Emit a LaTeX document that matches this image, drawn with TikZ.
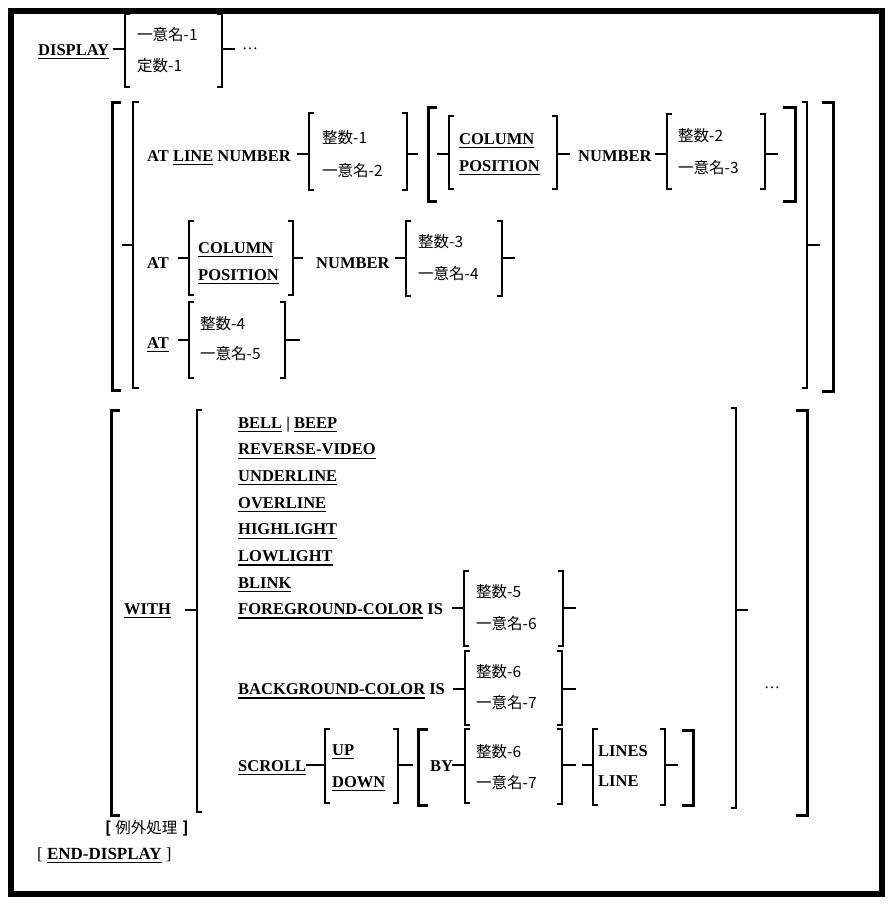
\documentclass[tikz,border=0pt]{standalone}
\usepackage{fontspec}
\setmainfont{Liberation Serif}
\newfontfamily\cjk{Noto Sans CJK JP}
\newcommand\kw[1]{\setbox0\hbox{#1}\rlap{\rule[-4pt]{\wd0}{1.2pt}}\box0\relax}
\newcommand\brk[5][thinbr]{\draw[#1] (#2,#3) +(#5,0) -- (#2,#3) -- (#2,#4) -- +(#5,0);}
\tikzset{
  thinbr/.style={line width=1.4pt, line join=miter},
  thickbr/.style={line width=3pt, line join=miter},
  kwt/.style={anchor=base west, inner sep=0pt, font=\fontsize{16.5}{18}\selectfont\bfseries},
  jp/.style={anchor=base west, inner sep=0pt, font=\fontsize{15.5}{18}\selectfont\cjk},
  dots/.style={anchor=base west, inner sep=0pt, font=\fontsize{16}{18}\selectfont},
}
\begin{document}
\begin{tikzpicture}[x=1pt,y=-1pt]
\useasboundingbox (0,0) rectangle (895,908);
\draw[line width=6pt] (11,11) rectangle (882,894);

% ---- DISPLAY
\node[kwt] (display) at (38,55) {\kw{DISPLAY}};
\draw[thinbr] (113,49) -- (125,49);
\brk{125}{14}{87}{5}
\node[jp] (id1) at (137,40) {一意名-1};
\node[jp] (c1) at (137,71) {定数-1};
\brk{222}{14}{87}{-5}
\draw[thinbr] (222,49) -- (235,49);
\node[dots] (dots1) at (242,49) {…};

% ---- AT section
\brk[thickbr]{112}{102}{390}{9}
\brk{133}{102}{388}{6}
\draw[thinbr] (122,245) -- (133,245);
\brk{807}{102}{388}{-5}
\draw[thinbr] (807,245) -- (820,245);
\brk[thickbr]{833}{102}{391}{-11}

% row 1
\node[kwt] (atline) at (147,161) {AT \kw{LINE} NUMBER};
\draw[thinbr] (297,154) -- (309,154);
\brk{309}{113}{190}{5}
\node[jp] (int1) at (322,143) {整数-1};
\node[jp] (id2) at (322,176) {一意名-2};
\brk{407}{113}{190}{-5}
\draw[thinbr] (407,154) -- (418,154);
\brk[thickbr]{428}{107}{201}{9}
\draw[thinbr] (437,154) -- (449,154);
\brk{449}{116}{189}{5}
\node[kwt] (col1) at (459,144) {\kw{COLUMN}};
\node[kwt] (pos1) at (459,171) {\kw{POSITION}};
\brk{557}{116}{189}{-5}
\draw[thinbr] (557,154) -- (570,154);
\node[kwt] (num1) at (578,161) {NUMBER};
\draw[thinbr] (655,154) -- (667,154);
\brk{667}{114}{189}{5}
\node[jp] (int2) at (678,141) {整数-2};
\node[jp] (id3) at (678,173) {一意名-3};
\brk{765}{114}{189}{-5}
\draw[thinbr] (765,154) -- (778,154);
\brk[thickbr]{795}{107}{201}{-12}

% row 2
\node[kwt] (at2) at (147,268) {AT};
\draw[thinbr] (178,258) -- (189,258);
\brk{189}{221}{295}{5}
\node[kwt] (col2) at (198,253) {\kw{COLUMN}};
\node[kwt] (pos2) at (198,280) {\kw{POSITION}};
\brk{293}{221}{295}{-5}
\draw[thinbr] (293,258) -- (303,258);
\node[kwt] (num2) at (316,268) {NUMBER};
\draw[thinbr] (395,258) -- (406,258);
\brk{406}{221}{296}{5}
\node[jp] (int3) at (418,247) {整数-3};
\node[jp] (id4) at (418,279) {一意名-4};
\brk{502}{221}{296}{-5}
\draw[thinbr] (502,258) -- (515,258);

% row 3
\node[kwt] (at3) at (147,348) {\kw{AT}};
\draw[thinbr] (178,340) -- (189,340);
\brk{189}{302}{378}{5}
\node[jp] (int4) at (200,329) {整数-4};
\node[jp] (id5) at (200,359) {一意名-5};
\brk{285}{302}{378}{-5}
\draw[thinbr] (285,340) -- (300,340);

% ---- WITH section
\brk[thickbr]{111}{410}{815}{9}
\brk{197}{410}{812}{5}
\node[kwt] (with) at (124,614) {\kw{WITH}};
\draw[thinbr] (185,610) -- (197,610);
\node[kwt] (bell) at (238,428) {\kw{BELL} | \kw{BEEP}};
\node[kwt] (rev) at (238,454.7) {\kw{REVERSE-VIDEO}};
\node[kwt] (und) at (238,481.4) {\kw{UNDERLINE}};
\node[kwt] (ovl) at (238,508.1) {\kw{OVERLINE}};
\node[kwt] (hil) at (238,534.8) {\kw{HIGHLIGHT}};
\node[kwt] (low) at (238,561.5) {\kw{LOWLIGHT}};
\node[kwt] (blk) at (238,588.2) {\kw{BLINK}};
\node[kwt] (fg) at (238,614.5) {\kw{FOREGROUND-COLOR} IS};
\draw[thinbr] (452,608) -- (464,608);
\brk{464}{571}{646}{5}
\node[jp] (int5) at (476,597) {整数-5};
\node[jp] (id6) at (476,629) {一意名-6};
\brk{563}{571}{646}{-5}
\draw[thinbr] (563,608) -- (576,608);

\node[kwt] (bg) at (238,694.5) {\kw{BACKGROUND-COLOR} IS};
\draw[thinbr] (453,689) -- (465,689);
\brk{465}{651}{725}{5}
\node[jp] (int6) at (476,677) {整数-6};
\node[jp] (id7) at (476,708) {一意名-7};
\brk{562}{651}{725}{-5}
\draw[thinbr] (562,689) -- (576,689);

\node[kwt] (scroll) at (238,771) {\kw{SCROLL}};
\draw[thinbr] (306,765) -- (325,765);
\brk{325}{729}{803}{5}
\node[kwt] (up) at (332,755) {\kw{UP}};
\node[kwt] (down) at (332,787) {\kw{DOWN}};
\brk{398}{729}{803}{-5}
\draw[thinbr] (398,765) -- (413,765);
\brk[thickbr]{418}{729}{805}{10}
\node[kwt] (by) at (430,771) {BY};
\draw[thinbr] (452,765) -- (465,765);
\brk{465}{729}{803}{5}
\node[jp] (int7) at (476,757) {整数-6};
\node[jp] (id8) at (476,788) {一意名-7};
\brk{562}{729}{804}{-5}
\draw[thinbr] (562,765) -- (576,765);
\draw[thinbr] (582,765) -- (593,765);
\brk{593}{729}{805}{5}
\node[kwt] (lines) at (598,756) {LINES};
\node[kwt] (line) at (598,786) {LINE};
\brk{665}{729}{805}{-5}
\draw[thinbr] (665,765) -- (678,765);
\brk[thickbr]{693}{730}{805}{-11}

\brk{736}{408}{808}{-5}
\draw[thinbr] (736,610) -- (748,610);
\node[dots] (dots2) at (764,688) {…};
\brk[thickbr]{807}{410}{815}{-11}

% ---- bottom
\node[jp] (exc) at (105,833) {\textbf{[}\hspace{4pt}例外処理\hspace{5pt}\textbf{]}};
\node[anchor=base west, inner sep=0pt, font=\fontsize{17}{18}\selectfont] (enddisp) at (37,859) {[ \textbf{\kw{END-DISPLAY}} ]};
\end{tikzpicture}
\end{document}
